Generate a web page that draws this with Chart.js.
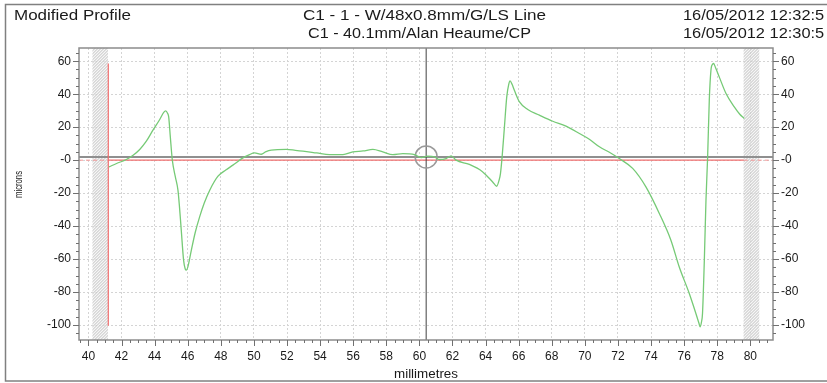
<!DOCTYPE html>
<html>
<head>
<meta charset="utf-8">
<script src="https://cdn.jsdelivr.net/npm/chart.js@4.4.1/dist/chart.umd.min.js"></script>
<style>
  html, body { margin: 0; padding: 0; background: #ffffff; }
  #wrap { width: 827px; height: 383px; position: relative; }
</style>
</head>
<body>
<div id="wrap"><canvas id="c" width="827" height="383"></canvas></div>
<script>
// Header texts
const titleLeft = 'Modified Profile';
const titleLine1 = 'C1 - 1 - W/48x0.8mm/G/LS Line';
const titleLine2 = 'C1 - 40.1mm/Alan Heaume/CP';
const dateLine1 = '16/05/2012 12:32:5';
const dateLine2 = '16/05/2012 12:30:5';
const xTitle = 'millimetres';
const yTitle = 'microns';

// Axis ranges and tick steps
const xRange = [39.43, 81.37];
const yRange = [-109, 68];
const xMajor = 2, xMinor = 0.5;
const yMajor = 20, yMinor = 5;

// Measured profile: position (mm) and deviation (microns)
const profileX = [41.24, 41.7, 42.29, 42.7, 43.1, 43.5, 43.9, 44.3, 44.55, 44.67, 44.78, 44.85, 44.95, 45.07, 45.25, 45.41, 45.5, 45.61, 45.75, 45.85, 45.92, 46.0, 46.22, 46.45, 46.72, 47.0, 47.33, 47.83, 48.3, 48.73, 49.34, 49.7, 50.04, 50.45, 50.7, 51.05, 51.96, 52.5, 52.96, 53.8, 54.57, 55.38, 55.98, 56.6, 57.19, 57.79, 58.4, 59.0, 59.7, 60.11, 60.51, 60.91, 61.21, 61.62, 61.92, 62.22, 63.02, 63.83, 64.43, 64.67, 64.82, 64.9, 65.0, 65.14, 65.28, 65.4, 65.48, 65.6, 65.74, 66.05, 66.55, 67.25, 68.06, 68.86, 69.67, 70.27, 70.88, 71.48, 72.08, 72.89, 73.69, 74.5, 75.2, 75.7, 76.31, 76.71, 76.9, 76.96, 77.05, 77.11, 77.22, 77.32, 77.42, 77.52, 77.62, 77.72, 77.78, 77.9, 78.12, 78.53, 79.03, 79.35, 79.63];
const profileY = [-4.1, -2.0, 0.4, 3.0, 6.5, 11.5, 18.2, 24.5, 29.0, 29.9, 28.5, 26.2, 14, 0, -10, -18.2, -28, -42.4, -60.6, -66, -66.7, -65, -54.5, -44, -34.4, -26, -18.2, -9.7, -6, -3, 1.4, 3.2, 4.4, 3.6, 5.0, 6.1, 6.5, 6.0, 5.5, 4.4, 3.4, 3.4, 5.0, 5.6, 6.5, 5.0, 3.4, 4.0, 3.4, 1.6, 2.4, 2.0, 0.4, 1.0, 2.6, 0, -2.6, -7.1, -13.2, -15.8, -12, -8.1, 2, 20.2, 38.4, 46, 48.1, 46, 42.4, 35.3, 30.7, 27.3, 23.6, 20.6, 16.2, 12.7, 8.1, 4.8, 1, -5, -16.2, -32.3, -48.5, -64.6, -80.8, -92.9, -99, -101, -98, -92.9, -60.6, -24.2, 2, 36.4, 54.5, 58.2, 58.6, 56, 50.5, 40.4, 32.3, 28, 25.3];

// Reference lines and evaluation limits
const evalStart = 41.2, evalEnd = 79.6;
const evalLineTop = 58.6, evalLineBottom = -100.4;
const meanLevel = 2;
const cursorX = 60.41, cursorY = 2;
const excludedZones = [[40.24, 41.18], [79.59, 80.54]];

const FONT = 'Liberation Sans, Arial, sans-serif';
const pts = (xs, ys) => xs.map((x, i) => ({ x: x, y: ys[i] }));
const isMult = (v, step) => Math.abs(v / step - Math.round(v / step)) < 1e-6;

// Draws fitted header / axis texts, hatched exclusion zones, minor/major tick marks and plot frame
const decor = {
  id: 'decor',
  beforeDatasetsDraw(chart) {
    const { ctx, chartArea: a, scales } = chart;
    const xs = scales.x;
    ctx.save();
    ctx.strokeStyle = 'rgba(150,150,150,0.7)';
    ctx.lineWidth = 0.8;
    excludedZones.forEach(([x0, x1]) => {
      const p0 = xs.getPixelForValue(x0), p1 = xs.getPixelForValue(x1);
      ctx.save();
      ctx.beginPath();
      ctx.rect(p0, a.top, p1 - p0, a.bottom - a.top);
      ctx.clip();
      ctx.fillStyle = 'rgba(240,240,240,0.6)';
      ctx.fillRect(p0, a.top, p1 - p0, a.bottom - a.top);
      const h = a.bottom - a.top;
      for (let s = p0 - h; s < p1 + 4; s += 3) {
        ctx.beginPath();
        ctx.moveTo(s, a.bottom);
        ctx.lineTo(s + h, a.top);
        ctx.stroke();
      }
      ctx.restore();
    });
    ctx.restore();
  },
  afterDraw(chart) {
    const { ctx, chartArea: a, scales } = chart;
    const xs = scales.x, ys = scales.y;
    ctx.save();
    // outer border
    ctx.strokeStyle = '#808080';
    ctx.lineWidth = 1.5;
    ctx.strokeRect(5.5, 4.5, 840, 376.5);
    // plot frame
    ctx.strokeStyle = '#8c8c8c';
    ctx.lineWidth = 1.5;
    ctx.strokeRect(a.left, a.top, a.right - a.left, a.bottom - a.top);
    // tick marks
    ctx.strokeStyle = '#707070';
    ctx.lineWidth = 1;
    ctx.beginPath();
    for (let v = Math.ceil(yRange[0] / yMinor) * yMinor; v <= yRange[1]; v += yMinor) {
      const py = Math.round(ys.getPixelForValue(v)) + 0.5;
      const len = isMult(v, yMajor) ? 6 : 3;
      ctx.moveTo(a.left, py); ctx.lineTo(a.left - len, py);
      ctx.moveTo(a.right, py); ctx.lineTo(a.right + len, py);
    }
    for (let v = Math.ceil(xRange[0] / xMinor) * xMinor; v <= xRange[1]; v += xMinor) {
      const px = Math.round(xs.getPixelForValue(v)) + 0.5;
      const len = isMult(v, xMajor) ? 6 : 3;
      ctx.moveTo(px, a.bottom); ctx.lineTo(px, a.bottom + len);
    }
    ctx.stroke();

    // texts, each fitted to its measured width
    ctx.fillStyle = '#1a1a1a';
    ctx.textBaseline = 'alphabetic';
    ctx.textAlign = 'left';
    const fit = (text, x, base, width, size) => {
      ctx.font = size + 'px ' + FONT;
      const w = ctx.measureText(text).width;
      const s = width ? width / w : 1.17;
      ctx.save();
      ctx.translate(x, base);
      ctx.scale(s, 1);
      ctx.fillText(text, 0, 0);
      ctx.restore();
    };
    fit(titleLeft, 14, 20, 117, 14);
    fit(titleLine1, 303, 20, 243, 14);
    fit(titleLine2, 308, 37.5, 223, 14);
    fit(dateLine1, 683, 20, 0, 14);
    fit(dateLine2, 683, 37.5, 0, 14);
    fit(xTitle, 394, 378, 64, 12);
    ctx.save();
    ctx.translate(22, 198);
    ctx.rotate(-Math.PI / 2);
    fit(yTitle, 0, 0, 27, 11);
    ctx.restore();
    ctx.restore();
  }
};

const tickFont = { family: FONT, size: 12 };
const yTicks = {
  autoSkip: false, includeBounds: false, stepSize: yMajor, padding: 8, color: '#1a1a1a', font: tickFont,
  callback: v => isMult(v, yMajor) ? (Math.round(v) === 0 ? '-0' : String(Math.round(v))) : ''
};
const gridColor = step => c => (c.tick && isMult(c.tick.value, step)) ? '#d4d4d4' : 'rgba(0,0,0,0)';

new Chart(document.getElementById('c'), {
  type: 'line',
  data: {
    datasets: [
      { data: pts(profileX, profileY), borderColor: 'rgb(118,202,118)', borderWidth: 1.3,
        pointRadius: 0, cubicInterpolationMode: 'monotone', order: 1 },
      { data: [{ x: xRange[0], y: meanLevel }, { x: xRange[1], y: meanLevel }],
        borderColor: '#8f8f8f', borderWidth: 2, pointRadius: 0, order: 5 },
      { data: [{ x: evalStart, y: 0 }, { x: evalEnd, y: 0 }],
        borderColor: 'rgb(240,110,110)', borderWidth: 1.2, pointRadius: 0, order: 4 },
      { data: [{ x: xRange[0], y: 0 }, { x: evalStart, y: 0 }],
        borderColor: 'rgb(245,150,150)', borderWidth: 1, borderDash: [4, 3], pointRadius: 0, order: 4 },
      { data: [{ x: evalEnd, y: 0 }, { x: xRange[1], y: 0 }],
        borderColor: 'rgb(245,150,150)', borderWidth: 1, borderDash: [4, 3], pointRadius: 0, order: 4 },
      { data: [{ x: evalStart, y: evalLineTop }, { x: evalStart, y: evalLineBottom }],
        borderColor: 'rgb(240,110,110)', borderWidth: 1.2, pointRadius: 0, order: 4 },
      { data: [{ x: cursorX, y: yRange[0] }, { x: cursorX, y: yRange[1] }],
        borderColor: '#404040', borderWidth: 1, pointRadius: 0, order: 3 },
      { type: 'scatter', data: [{ x: cursorX, y: cursorY }], showLine: false,
        pointRadius: 11, pointBorderColor: '#9a9a9a', pointBackgroundColor: 'rgba(0,0,0,0)',
        pointBorderWidth: 1.5, order: 2 }
    ]
  },
  options: {
    responsive: false,
    animation: false,
    events: [],
    layout: { padding: { top: 48, left: 0, right: 0, bottom: 0 } },
    plugins: { legend: { display: false }, tooltip: { enabled: false }, title: { display: false } },
    scales: {
      x: {
        type: 'linear', min: xRange[0], max: xRange[1], position: 'bottom',
        afterFit: s => { s.height = 43; },
        ticks: { autoSkip: false, includeBounds: false, stepSize: xMajor, padding: 9, color: '#1a1a1a', font: tickFont, maxRotation: 0,
          callback: v => isMult(v, xMajor) ? String(Math.round(v)) : '' },
        grid: { drawTicks: false, color: gridColor(xMajor), lineWidth: 1 },
        border: { display: false, dash: [2, 2] }
      },
      y: {
        type: 'linear', min: yRange[0], max: yRange[1], position: 'left',
        afterFit: s => { s.width = 79; },
        ticks: yTicks,
        grid: { drawTicks: false, color: gridColor(yMajor), lineWidth: 1 },
        border: { display: false, dash: [2, 2] }
      },
      yR: {
        type: 'linear', min: yRange[0], max: yRange[1], position: 'right',
        afterFit: s => { s.width = 54; },
        ticks: yTicks,
        grid: { drawTicks: false, drawOnChartArea: false },
        border: { display: false }
      }
    }
  },
  plugins: [decor]
});
</script>
</body>
</html>
